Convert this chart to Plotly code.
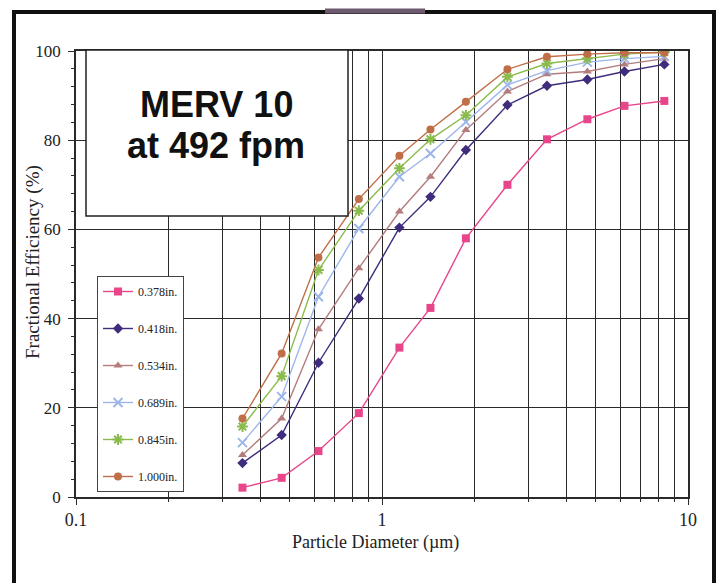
import plotly.graph_objects as go

# Particle size channels (um)
diameters = [0.35, 0.47, 0.62, 0.84, 1.14, 1.44, 1.88, 2.57, 3.46, 4.69, 6.2, 8.37]

series_names = ["0.378in.", "0.418in.", "0.534in.", "0.689in.", "0.845in.", "1.000in."]

eff_0378 = [2.1, 4.3, 10.3, 18.8, 33.5, 42.4, 58.0, 70.0, 80.2, 84.7, 87.7, 88.8]
eff_0418 = [7.6, 13.9, 30.1, 44.5, 60.4, 67.3, 77.8, 87.9, 92.2, 93.6, 95.4, 97.0]
eff_0534 = [9.4, 17.6, 37.6, 51.3, 64.0, 71.8, 82.3, 90.9, 94.8, 95.4, 97.0, 98.3]
eff_0689 = [12.2, 22.5, 44.9, 60.2, 71.8, 77.0, 84.1, 92.4, 95.6, 97.5, 98.3, 98.8]
eff_0845 = [15.8, 27.1, 50.9, 64.2, 73.7, 80.2, 85.6, 94.2, 97.2, 98.3, 99.3, 99.8]
eff_1000 = [17.6, 32.2, 53.7, 66.8, 76.5, 82.4, 88.6, 95.9, 98.7, 99.3, 99.6, 99.6]

all_series = [eff_0378, eff_0418, eff_0534, eff_0689, eff_0845, eff_1000]
colors = ["#E8458B", "#3F2C7C", "#B47C7C", "#9DB6EA", "#8BBB4C", "#C06E48"]
symbols = ["square", "diamond", "triangle-up", "x-thin-open", "asterisk-open", "circle"]
msizes = [8, 8, 8, 9, 9, 8]

x_ticks = [0.1, 1, 10]
x_tick_labels = ["0.1", "1", "10"]
y_ticks = [0, 20, 40, 60, 80, 100]
minor_x = [0.2, 0.3, 0.4, 0.5, 0.6, 0.7, 0.8, 0.9, 2, 3, 4, 5, 6, 7, 8, 9]

x_title = "Particle Diameter (µm)"
y_title = "Fractional Efficiency (%)"

fig = go.Figure()
for i, (name, vals) in enumerate(zip(series_names, all_series)):
    open_sym = symbols[i].endswith("open")
    fig.add_trace(go.Scatter(
        x=diameters, y=vals, name=name, mode="lines+markers",
        legendgroup=name,
        line=dict(color=colors[i], width=1.4),
        marker=dict(symbol=symbols[i], size=msizes[i], color=colors[i],
                    line=dict(color=colors[i], width=2 if open_sym else 0)),
    ))

grid_col = "#2a2a2a"
serif = "Liberation Serif"
fig.update_xaxes(
    type="log", range=[-1, 1],
    tickvals=x_ticks, ticktext=x_tick_labels,
    showgrid=True, gridcolor=grid_col, gridwidth=1.3,
    showline=True, linecolor=grid_col, linewidth=1.5, mirror=True,
    ticks="outside", ticklen=6, tickcolor=grid_col,
    minor=dict(tickvals=minor_x, showgrid=True, gridcolor=grid_col, gridwidth=1.3,
               ticks="outside", ticklen=3, tickcolor=grid_col),
    tickfont=dict(family=serif, size=18, color="#222"),
    ticklabelstandoff=0,
    zeroline=False,
)
fig.update_yaxes(
    range=[0, 100], tickvals=y_ticks,
    showgrid=True, gridcolor=grid_col, gridwidth=1.3,
    showline=True, linecolor=grid_col, linewidth=1.5, mirror=True,
    ticks="outside", ticklen=6, tickcolor=grid_col,
    minor=dict(dtick=4, ticks="outside", ticklen=3, tickcolor=grid_col, showgrid=False),
    tickfont=dict(family=serif, size=17, color="#222"),
    ticklabelstandoff=4,
    zeroline=False,
)

def px_x(p):
    return (p - 76) / 612

def px_y(p):
    return (497 - p) / 446

# Axis titles
fig.add_annotation(xref="paper", yref="paper", x=px_x(375), y=px_y(542),
                   xanchor="center", yanchor="middle", text=x_title, showarrow=False,
                   font=dict(family=serif, size=18, color="#222"))
fig.add_annotation(xref="paper", yref="paper", x=px_x(33), y=px_y(262),
                   xanchor="center", yanchor="middle", text=y_title, showarrow=False,
                   textangle=-90, font=dict(family=serif, size=19, color="#222"))

# Title box
fig.add_shape(type="rect", xref="paper", yref="paper",
              x0=px_x(86), x1=px_x(348), y0=px_y(216), y1=px_y(50),
              fillcolor="white", line=dict(color="#222", width=1.5), layer="above")
for txt, yc in [("<b>MERV 10</b>", 104), ("<b>at 492 fpm</b>", 146)]:
    fig.add_annotation(xref="paper", yref="paper", x=px_x(216), y=px_y(yc),
                       xanchor="center", yanchor="middle",
                       text=txt, showarrow=False,
                       font=dict(family="Liberation Sans", size=36, color="#111"))

# Outer frame
fig.add_shape(type="rect", xref="paper", yref="paper",
              x0=px_x(14), x1=px_x(714), y0=px_y(600), y1=px_y(12),
              line=dict(color="#111", width=4), fillcolor="rgba(0,0,0,0)")
# small mark on top edge
fig.add_shape(type="line", xref="paper", yref="paper",
              x0=px_x(325), x1=px_x(425), y0=px_y(11), y1=px_y(11),
              line=dict(color="#6e5a6e", width=5))

fig.update_layout(
    width=723, height=583,
    margin=dict(l=76, r=35, t=51, b=86),
    paper_bgcolor="white", plot_bgcolor="white",
    showlegend=True,
    legend=dict(x=px_x(97), y=px_y(276), xanchor="left", yanchor="top",
                bgcolor="white", bordercolor="#444", borderwidth=1,
                font=dict(family=serif, size=12, color="#222"),
                tracegroupgap=18, itemwidth=30),
)

fig.write_html("out.html", config={"displayModeBar": False},
               post_script="document.body.style.margin='0';")
